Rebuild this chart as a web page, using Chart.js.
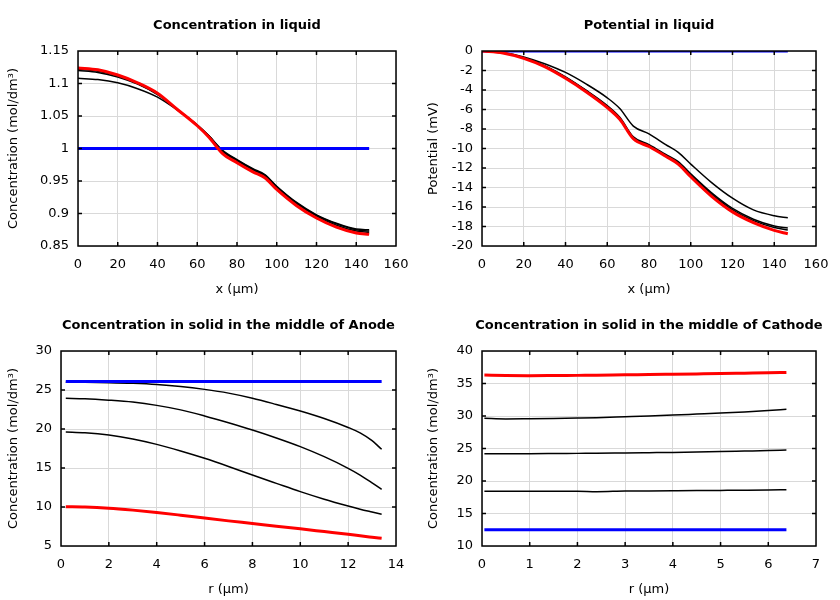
<!DOCTYPE html>
<html>
<head>
<meta charset="utf-8">
<script src="https://cdn.jsdelivr.net/npm/chart.js@4.4.1/dist/chart.umd.min.js"></script>
<style>
  html, body { margin: 0; padding: 0; background: #fff; }
  .panel { position: absolute; width: 420px; height: 300px; }
</style>
</head>
<body>
<div class="panel" style="left:0;top:0"><canvas id="liquidConc" width="420" height="300"></canvas></div>
<div class="panel" style="left:420px;top:0"><canvas id="liquidPot" width="420" height="300"></canvas></div>
<div class="panel" style="left:0;top:300px"><canvas id="anodeConc" width="420" height="300"></canvas></div>
<div class="panel" style="left:420px;top:300px"><canvas id="cathodeConc" width="420" height="300"></canvas></div>
<script>
/* ==========================================================
DATA
========================================================== */

// liquid phase, x in um
const liquidX = [0, 10, 20, 30, 40, 50, 60, 66, 72.5, 80, 88, 94, 100, 110, 120, 130, 140, 146.5];

const liquidConcStart = [1, 1, 1, 1, 1, 1, 1, 1, 1, 1, 1, 1, 1, 1, 1, 1, 1, 1];
const liquidConcA = [1.108, 1.106, 1.101, 1.092, 1.079, 1.059, 1.036, 1.019, 0.998, 0.983, 0.969, 0.960, 0.942, 0.917, 0.898, 0.885, 0.876, 0.875];
const liquidConcB = [1.120, 1.117, 1.110, 1.099, 1.083, 1.060, 1.036, 1.019, 0.997, 0.982, 0.968, 0.959, 0.941, 0.916, 0.897, 0.884, 0.875, 0.873];
const liquidConcC = [1.122, 1.119, 1.112, 1.100, 1.084, 1.060, 1.036, 1.018, 0.996, 0.981, 0.967, 0.958, 0.940, 0.915, 0.896, 0.882, 0.873, 0.871];
const liquidConcEnd = [1.124, 1.121, 1.113, 1.101, 1.085, 1.060, 1.035, 1.017, 0.993, 0.978, 0.964, 0.955, 0.937, 0.912, 0.893, 0.879, 0.870, 0.868];

const liquidPotStart = [0, 0, 0, 0, 0, 0, 0, 0, 0, 0, 0, 0, 0, 0, 0, 0, 0, 0];
const liquidPotA = [0, -0.15, -0.6, -1.3, -2.2, -3.4, -4.8, -5.9, -7.7, -8.5, -9.6, -10.4, -11.6, -13.5, -15.1, -16.3, -16.9, -17.1];
const liquidPotB = [0, -0.19, -0.7, -1.5, -2.65, -4.05, -5.6, -6.8, -8.8, -9.6, -10.6, -11.35, -12.6, -14.55, -16.15, -17.25, -17.95, -18.15];
const liquidPotC = [0, -0.2, -0.72, -1.55, -2.7, -4.1, -5.7, -6.9, -8.9, -9.7, -10.7, -11.45, -12.7, -14.7, -16.3, -17.4, -18.1, -18.35];
const liquidPotEnd = [0, -0.2, -0.75, -1.6, -2.8, -4.2, -5.8, -7.0, -9.0, -9.8, -10.8, -11.6, -12.9, -14.9, -16.5, -17.6, -18.4, -18.75];

// anode particle, r in um
const anodeR = [0.2, 1, 2, 3, 4, 5, 6, 7, 8, 9, 10, 11, 12, 12.5, 13, 13.4];

const anodeStart = [26.1, 26.1, 26.1, 26.1, 26.1, 26.1, 26.1, 26.1, 26.1, 26.1, 26.1, 26.1, 26.1, 26.1, 26.1, 26.1];
const anodeA = [26.0, 25.99, 25.94, 25.85, 25.7, 25.45, 25.08, 24.6, 23.95, 23.15, 22.3, 21.35, 20.2, 19.5, 18.5, 17.4];
const anodeB = [23.93, 23.88, 23.7, 23.45, 23.03, 22.45, 21.67, 20.8, 19.87, 18.85, 17.74, 16.45, 14.96, 14.1, 13.1, 12.26];
const anodeC = [19.62, 19.52, 19.23, 18.72, 18.03, 17.18, 16.24, 15.2, 14.1, 13.03, 11.97, 11.0, 10.13, 9.72, 9.35, 9.06];
const anodeEnd = [10.04, 10.0, 9.85, 9.6, 9.3, 8.95, 8.58, 8.22, 7.88, 7.53, 7.2, 6.85, 6.5, 6.3, 6.12, 5.98];

// cathode particle, r in um
const cathodeR = [0.05, 0.5, 1, 1.5, 2, 2.4, 3, 3.5, 4, 4.5, 5, 5.5, 6, 6.38];

const cathodeStart = [12.5, 12.5, 12.5, 12.5, 12.5, 12.5, 12.5, 12.5, 12.5, 12.5, 12.5, 12.5, 12.5, 12.5];
const cathodeA = [18.41, 18.42, 18.42, 18.43, 18.44, 18.36, 18.46, 18.48, 18.5, 18.52, 18.55, 18.58, 18.62, 18.67];
const cathodeB = [24.2, 24.2, 24.2, 24.22, 24.25, 24.27, 24.32, 24.36, 24.4, 24.45, 24.52, 24.6, 24.68, 24.77];
const cathodeC = [29.64, 29.55, 29.58, 29.62, 29.68, 29.74, 29.88, 30.0, 30.14, 30.3, 30.46, 30.63, 30.85, 31.03];
const cathodeEnd = [36.3, 36.22, 36.2, 36.22, 36.25, 36.27, 36.33, 36.37, 36.42, 36.47, 36.52, 36.58, 36.64, 36.7];

/* ==========================================================
HELPERS
========================================================== */

const FONT = "'DejaVu Sans', sans-serif";

Chart.defaults.font.family = FONT;
Chart.defaults.font.size = 13;
Chart.defaults.color = "#000";

function toPoints(xs, ys) {
  return xs.map((x, i) => ({ x: x, y: ys[i] }));
}

// plain tick text: 1, 1.1, 0.95 (no padded zeros)
function plainTick(value) {
  return String(Number(value.toFixed(4)));
}

function series(xs, ys, color, width, order) {
  return {
    data: toPoints(xs, ys),
    showLine: true,
    borderColor: color,
    backgroundColor: color,
    borderWidth: width,
    pointRadius: 0,
    cubicInterpolationMode: "monotone",
    order: order,
  };
}

// title over the plot area + box frame with inward ticks
const framePlugin = {
  id: "frame",
  afterDraw(chart, args, opts) {
    const { ctx, chartArea: a, scales } = chart;
    ctx.save();

    ctx.fillStyle = "#000";
    ctx.font = "bold 13px " + FONT;
    ctx.textAlign = "center";
    ctx.textBaseline = "middle";
    ctx.fillText(opts.title, (a.left + a.right) / 2, 26);

    ctx.strokeStyle = "#000";
    ctx.lineWidth = 1.5;
    ctx.beginPath();
    scales.x.ticks.forEach((t) => {
      const px = scales.x.getPixelForValue(t.value);
      if (px <= a.left + 1 || px >= a.right - 1) return;
      ctx.moveTo(px, a.bottom);
      ctx.lineTo(px, a.bottom - 4);
      ctx.moveTo(px, a.top);
      ctx.lineTo(px, a.top + 4);
    });
    scales.y.ticks.forEach((t) => {
      const py = scales.y.getPixelForValue(t.value);
      if (py <= a.top + 1 || py >= a.bottom - 1) return;
      ctx.moveTo(a.left, py);
      ctx.lineTo(a.left + 4, py);
      ctx.moveTo(a.right, py);
      ctx.lineTo(a.right - 4, py);
    });
    ctx.stroke();

    ctx.strokeRect(a.left, a.top, a.right - a.left, a.bottom - a.top);
    ctx.restore();
  },
};

function makeChart(id, cfg) {
  const canvas = document.getElementById(id);

  if (!canvas) return;

  new Chart(canvas, {
    type: "scatter",
    data: { datasets: cfg.datasets },
    options: {
      responsive: false,
      animation: false,
      devicePixelRatio: 1,
      layout: { padding: { top: 51, right: 24, left: 0, bottom: 0 } },
      plugins: {
        legend: { display: false },
        tooltip: { enabled: false },
        frame: { title: cfg.title },
      },
      scales: {
        x: {
          type: "linear",
          min: cfg.xMin,
          max: cfg.xMax,
          ticks: { stepSize: cfg.xStep, padding: 11, maxRotation: 0, callback: plainTick },
          grid: { color: "#d9d9d9", drawTicks: false },
          border: { display: false },
          title: { display: true, text: cfg.xLabel, padding: { top: 0, bottom: 3 } },
          afterFit: (s) => {
            s.height = 54;
          },
        },
        y: {
          type: "linear",
          min: cfg.yMin,
          max: cfg.yMax,
          ticks: { stepSize: cfg.yStep, padding: 9, callback: plainTick },
          grid: { color: "#d9d9d9", drawTicks: false },
          border: { display: false },
          title: { display: true, text: cfg.yLabel, padding: { top: 6, bottom: 0 } },
          afterFit: (s) => {
            s.width = cfg.axisWidth;
          },
        },
      },
    },
    plugins: [framePlugin],
  });
}

/* ==========================================================
CHARTS
========================================================== */

makeChart("liquidConc", {
  title: "Concentration in liquid",
  xLabel: "x (μm)",
  yLabel: "Concentration (mol/dm³)",
  xMin: 0, xMax: 160, xStep: 20,
  yMin: 0.85, yMax: 1.15, yStep: 0.05,
  axisWidth: 78,
  datasets: [
    series(liquidX, liquidConcStart, "#0000ff", 3, 1),
    series(liquidX, liquidConcA, "#000", 1.5, 2),
    series(liquidX, liquidConcB, "#000", 1.5, 2),
    series(liquidX, liquidConcC, "#000", 1.5, 2),
    series(liquidX, liquidConcEnd, "#ff0000", 3, 0),
  ],
});

makeChart("liquidPot", {
  title: "Potential in liquid",
  xLabel: "x (μm)",
  yLabel: "Potential (mV)",
  xMin: 0, xMax: 160, xStep: 20,
  yMin: -20, yMax: 0, yStep: 2,
  axisWidth: 62,
  datasets: [
    series(liquidX, liquidPotStart, "#0000ff", 3, 1),
    series(liquidX, liquidPotA, "#000", 1.5, 2),
    series(liquidX, liquidPotB, "#000", 1.5, 2),
    series(liquidX, liquidPotC, "#000", 1.5, 2),
    series(liquidX, liquidPotEnd, "#ff0000", 3, 0),
  ],
});

makeChart("anodeConc", {
  title: "Concentration in solid in the middle of Anode",
  xLabel: "r (μm)",
  yLabel: "Concentration (mol/dm³)",
  xMin: 0, xMax: 14, xStep: 2,
  yMin: 5, yMax: 30, yStep: 5,
  axisWidth: 61,
  datasets: [
    series(anodeR, anodeStart, "#0000ff", 3, 1),
    series(anodeR, anodeA, "#000", 1.5, 2),
    series(anodeR, anodeB, "#000", 1.5, 2),
    series(anodeR, anodeC, "#000", 1.5, 2),
    series(anodeR, anodeEnd, "#ff0000", 3, 0),
  ],
});

makeChart("cathodeConc", {
  title: "Concentration in solid in the middle of Cathode",
  xLabel: "r (μm)",
  yLabel: "Concentration (mol/dm³)",
  xMin: 0, xMax: 7, xStep: 1,
  yMin: 10, yMax: 40, yStep: 5,
  axisWidth: 62,
  datasets: [
    series(cathodeR, cathodeStart, "#0000ff", 3, 1),
    series(cathodeR, cathodeA, "#000", 1.5, 2),
    series(cathodeR, cathodeB, "#000", 1.5, 2),
    series(cathodeR, cathodeC, "#000", 1.5, 2),
    series(cathodeR, cathodeEnd, "#ff0000", 3, 0),
  ],
});
</script>
</body>
</html>
